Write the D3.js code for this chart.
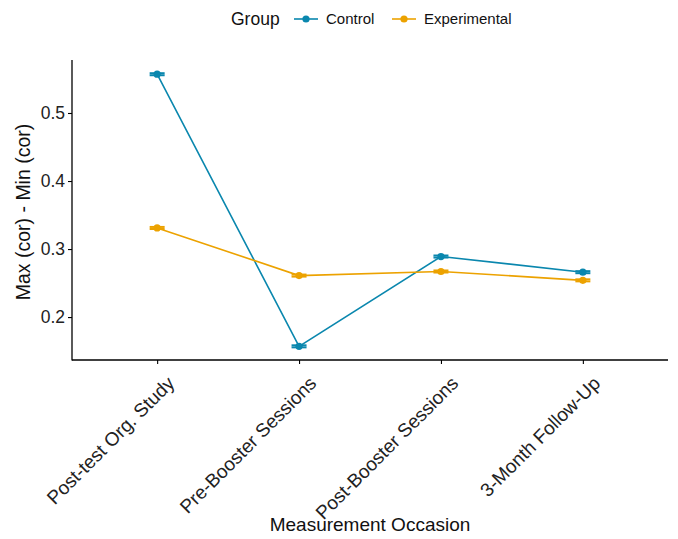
<!DOCTYPE html>
<html><head><meta charset="utf-8">
<script src="https://cdn.jsdelivr.net/npm/d3@7"></script>
<style>body{margin:0;background:#fff}svg{display:block;font-family:"Liberation Sans",Arial,sans-serif}</style>
</head><body><svg id="c" width="678" height="539"></svg>
<script>
const categories = ["Post-test Org. Study","Pre-Booster Sessions","Post-Booster Sessions","3-Month Follow-Up"];
const groups = ["Control","Experimental"];
const controlValues = [0.557, 0.157, 0.289, 0.266];
const experimentalValues = [0.331, 0.261, 0.267, 0.254];
const controlErr = [0.0015, 0.0015, 0.0015, 0.0015];
const experimentalErr = [0.0015, 0.0015, 0.0015, 0.0015];
const yTicks = [0.2, 0.3, 0.4, 0.5];
const colors = ["#0A87AE", "#ECA200"];

(function(){
const svg = d3.select("#c");
const pL = 72, pR = 668, pT = 60, pB = 360;
const x = d3.scalePoint().domain(categories).range([pL, pR]).padding(0.6);
const y = d3.scaleLinear().domain([0.1369, 0.5779]).range([pB, pT]);

const series = [
  {name: groups[0], vals: controlValues, err: controlErr, color: colors[0]},
  {name: groups[1], vals: experimentalValues, err: experimentalErr, color: colors[1]}
];

const yAx = svg.append("g").attr("transform", `translate(${pL},0)`)
  .call(d3.axisLeft(y).tickValues(yTicks).tickFormat(d3.format(".1f")).tickSize(4).tickPadding(3));
const xAx = svg.append("g").attr("transform", `translate(0,${pB})`)
  .call(d3.axisBottom(x).tickSize(4).tickFormat(""));
[yAx, xAx].forEach(g => {
  g.select(".domain").remove();
  g.selectAll("line").attr("stroke", "#000").attr("stroke-width", 1.1);
});
yAx.selectAll("text").attr("font-size", 17.5).attr("fill", "#222");
svg.append("line").attr("x1", pL).attr("x2", pL).attr("y1", pT).attr("y2", pB + 0.5).attr("stroke", "#000").attr("stroke-width", 1.3);
svg.append("line").attr("x1", pL).attr("x2", pR).attr("y1", pB).attr("y2", pB).attr("stroke", "#000").attr("stroke-width", 1.3);

svg.append("g").selectAll("text").data(categories).join("text")
  .attr("transform", d => `translate(${x(d) + 9},${pB + 15}) rotate(-45)`)
  .attr("text-anchor", "end").attr("dy", "0.71em")
  .attr("font-size", 19).attr("fill", "#222").text(d => d);

svg.append("text").attr("x", (pL + pR) / 2).attr("y", 531).attr("text-anchor", "middle")
  .attr("font-size", 19).attr("fill", "#111").text("Measurement Occasion");
svg.append("text").attr("transform", `translate(30,${(pT + pB) / 2 + 2}) rotate(-90)`)
  .attr("text-anchor", "middle").attr("font-size", 19.5).attr("fill", "#111").text("Max (cor) - Min (cor)");

const line = d3.line().x((d, i) => x(categories[i])).y(d => y(d));
series.forEach(s => {
  const g = svg.append("g");
  g.append("path").attr("d", line(s.vals)).attr("fill", "none").attr("stroke", s.color).attr("stroke-width", 1.6);
  s.vals.forEach((v, i) => {
    const cx = x(categories[i]);
    g.append("line").attr("x1", cx).attr("x2", cx).attr("y1", y(v - s.err[i])).attr("y2", y(v + s.err[i])).attr("stroke", s.color).attr("stroke-width", 1.6);
    [v - s.err[i], v + s.err[i]].forEach(e => {
      g.append("line").attr("x1", cx - 7.5).attr("x2", cx + 7.5).attr("y1", y(e)).attr("y2", y(e)).attr("stroke", s.color).attr("stroke-width", 2);
    });
    g.append("circle").attr("cx", cx).attr("cy", y(v)).attr("r", 3.6).attr("fill", s.color);
  });
});

const lg = svg.append("g");
lg.append("text").attr("x", 231).attr("y", 25).attr("font-size", 17.5).attr("fill", "#111").text("Group");
const lx = [294, 392];
series.forEach((s, i) => {
  lg.append("line").attr("x1", lx[i]).attr("x2", lx[i] + 24).attr("y1", 19).attr("y2", 19).attr("stroke", s.color).attr("stroke-width", 1.6);
  lg.append("circle").attr("cx", lx[i] + 12).attr("cy", 19).attr("r", 3.6).attr("fill", s.color);
  lg.append("text").attr("x", lx[i] + 32).attr("y", 24).attr("font-size", 15).attr("fill", "#111").text(s.name);
});
})();
</script></body></html>
